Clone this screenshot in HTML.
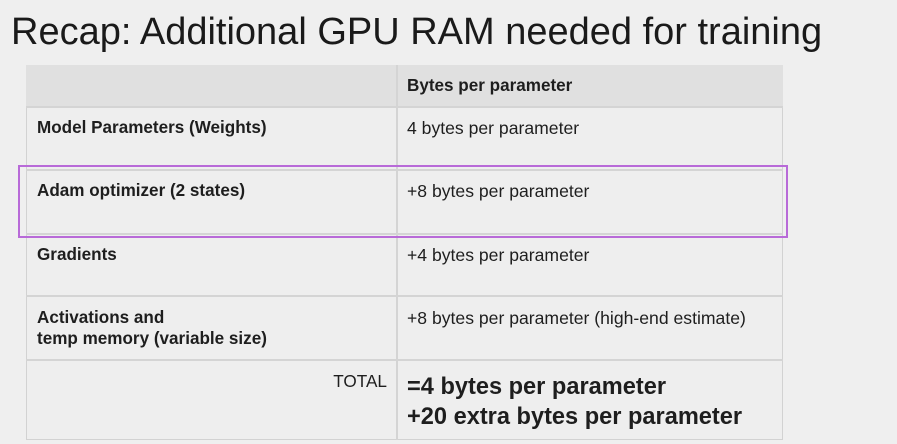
<!DOCTYPE html>
<html>
<head>
<meta charset="utf-8">
<style>
html,body{margin:0;padding:0;}
body{width:897px;height:444px;background:#efefef;position:relative;overflow:hidden;font-family:"Liberation Sans",Arial,sans-serif;color:#1e1e1e;}
.title{position:absolute;left:11px;top:9px;font-size:38px;line-height:46px;white-space:nowrap;color:#1a1a1a;}
.tbl{position:absolute;left:26px;top:65px;width:757px;height:375px;background:#eeeeee;border:1px solid #d2d2d2;box-sizing:border-box;}
.hdr{position:absolute;left:26px;top:65px;width:757px;height:42px;background:#e0e0e0;}
.hl{position:absolute;left:26px;width:757px;height:2px;background:#d4d4d4;}
.vl{position:absolute;left:396px;top:65px;width:1.5px;height:375px;background:#d4d4d4;}
.t{position:absolute;white-space:nowrap;font-size:17px;line-height:20px;}
.b{font-weight:bold;}
.purple{position:absolute;left:18px;top:165px;width:770px;height:73px;border:2px solid #b86ad8;box-sizing:border-box;}
</style>
</head>
<body>
<div class="title">Recap: Additional GPU RAM needed for training</div>
<div class="tbl"></div>
<div class="hdr"></div>
<div class="hl" style="top:106px"></div>
<div class="hl" style="top:169px;height:1.5px"></div>
<div class="hl" style="top:233px"></div>
<div class="hl" style="top:295px"></div>
<div class="hl" style="top:359px"></div>
<div class="vl"></div>

<div class="t b" style="left:407px;top:76px;font-size:17.1px;">Bytes per parameter</div>

<div class="t b" style="left:37px;top:118px;font-size:17.1px;">Model Parameters (Weights)</div>
<div class="t" style="left:407px;top:118px;font-size:17.6px;">4 bytes per parameter</div>

<div class="t b" style="left:37px;top:181px;font-size:17.1px;">Adam optimizer (2 states)</div>
<div class="t" style="left:407px;top:181px;font-size:17.6px;">+8 bytes per parameter</div>

<div class="t b" style="left:37px;top:245px;font-size:17.1px;">Gradients</div>
<div class="t" style="left:407px;top:245px;font-size:17.6px;">+4 bytes per parameter</div>

<div class="t b" style="left:37px;top:308px;font-size:17.1px;">Activations and</div>
<div class="t b" style="left:37px;top:329px;font-size:17.1px;">temp memory (variable size)</div>
<div class="t" style="left:407px;top:308px;font-size:17.6px;">+8 bytes per parameter (high-end estimate)</div>

<div class="t" style="right:510px;top:371px;font-size:17.2px;">TOTAL</div>
<div class="t b" style="left:407px;top:373px;font-size:23.6px;line-height:28px;">=4 bytes per parameter</div>
<div class="t b" style="left:407px;top:403px;font-size:23.6px;line-height:28px;">+20 extra bytes per parameter</div>

<div class="purple"></div>
</body>
</html>
